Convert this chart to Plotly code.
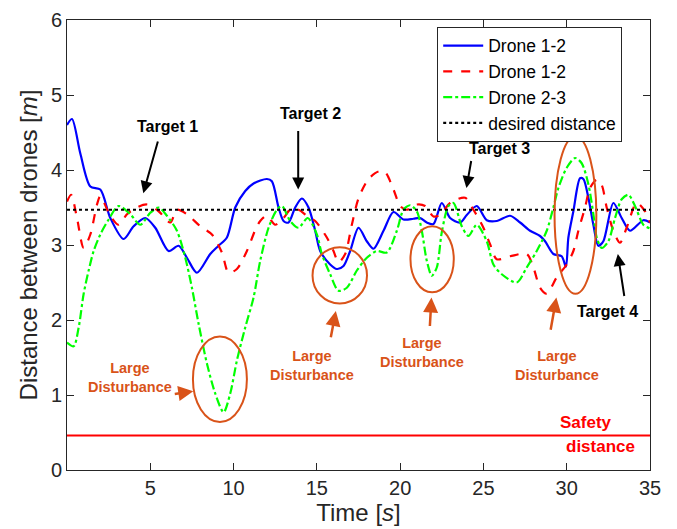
import plotly.graph_objects as go

# ---------------- data ----------------
t_blue = [0.0, 0.3, 0.8, 1.4, 2.0, 2.6, 3.4, 4.0, 4.7, 5.3, 6.1, 6.7, 7.2, 7.8, 8.6, 9.1, 9.6,
          10.1, 10.7, 11.2, 12.0, 12.3, 12.7, 13.0, 13.3, 13.7, 14.1, 14.5, 14.9, 15.2, 15.8,
          16.2, 16.6, 17.0, 17.5, 18.0, 18.4, 19.0, 19.6, 20.2, 20.8, 21.2, 21.6, 22.0, 22.5,
          23.0, 23.6, 24.0, 24.6, 25.2, 25.8, 26.6, 27.2, 27.8, 28.4, 28.7, 29.2, 29.7, 29.95,
          30.1, 30.4, 30.8, 31.0, 31.3, 31.6, 31.9, 32.2, 32.8, 33.3, 33.8, 34.6, 35.0]
d_blue = [4.60, 4.68, 4.22, 3.78, 3.74, 3.36, 3.08, 3.25, 3.36, 3.23, 2.92, 2.99, 2.83, 2.63, 2.88, 2.99, 3.10,
          3.50, 3.72, 3.82, 3.88, 3.85, 3.50, 3.32, 3.30, 3.50, 3.62, 3.50, 3.19, 2.92, 2.74,
          2.68, 2.72, 2.92, 3.23, 3.05, 2.95, 3.19, 3.44, 3.34, 3.35, 3.36, 3.30, 3.28, 3.56,
          3.36, 3.30, 3.40, 3.52, 3.33, 3.32, 3.39, 3.30, 3.19, 3.12, 3.05, 2.88, 2.85, 2.71,
          3.10, 3.45, 3.89, 3.88, 3.63, 3.27, 2.99, 3.05, 3.56, 3.36, 3.19, 3.33, 3.30]

t_red = [0.0, 0.25, 0.6, 1.0, 1.4, 1.8, 2.0, 2.6, 3.1, 3.6, 4.2, 4.8, 5.5, 6.2, 6.6, 7.2, 8.0, 8.7,
         9.3, 9.7, 10.2, 10.8, 11.3, 11.6, 12.0, 12.5, 13.0, 13.4, 13.9, 14.4, 14.9, 15.6, 16.0,
         16.3, 16.7, 17.1, 17.5, 18.1, 18.7, 19.1, 19.6, 20.0, 20.4, 21.0, 21.5, 22.0, 22.4,
         23.0, 23.9, 24.4, 25.0, 25.4, 25.8, 26.6, 27.6, 28.0, 28.4, 28.8, 29.4, 30.0, 30.4,
         30.7, 31.1, 31.4, 31.8, 32.1, 32.4, 32.8, 33.2, 33.6, 34.2, 34.7, 35.0]
d_red = [3.58, 3.67, 3.36, 2.96, 3.14, 3.54, 3.65, 3.39, 3.27, 3.41, 3.50, 3.54, 3.45, 3.30, 3.47, 3.41, 3.25, 3.14,
         2.90, 2.63, 2.68, 2.92, 3.20, 3.32, 3.39, 3.27, 3.36, 3.47, 3.47, 3.39, 3.32, 3.10, 2.92,
         2.77, 2.88, 3.27, 3.62, 3.88, 3.98, 3.97, 3.74, 3.52, 3.47, 3.54, 3.52, 3.38, 3.40,
         3.56, 3.63, 3.47, 3.23, 3.01, 2.81, 2.85, 2.88, 2.70, 2.43, 2.35, 2.57, 2.74, 2.92,
         3.19, 3.50, 3.76, 3.87, 3.80, 3.50, 3.19, 3.03, 3.23, 3.56, 3.45, 3.30]

t_green = [0.0, 0.4, 0.7, 1.0, 1.3, 1.6, 2.0, 2.5, 3.1, 3.8, 4.4, 5.0, 5.5, 6.0, 6.6, 7.1, 7.5, 7.9,
           8.4, 8.9, 9.4, 9.8, 10.2, 10.7, 11.2, 11.6, 12.1, 12.6, 12.9, 13.4, 13.9, 14.45, 15.0,
           15.3, 15.8, 16.3, 16.8, 17.4, 18.0, 18.6, 19.2, 19.8, 20.2, 20.6, 21.0, 21.3, 21.6,
           21.9, 22.2, 22.5, 22.9, 23.2, 23.7, 24.1, 24.6, 25.2, 25.6, 26.1, 27.0, 27.6, 28.2,
           28.8, 29.2, 29.5, 30.0, 30.5, 30.9, 31.3, 31.6, 31.8, 32.1, 32.5, 32.9, 33.3, 33.7,
           34.1, 34.6, 35.0]
d_green = [1.70, 1.65, 1.90, 2.35, 2.66, 2.92, 3.14, 3.34, 3.52, 3.41, 3.27, 3.43, 3.50, 3.39, 3.19, 2.83, 2.43, 1.95,
           1.42, 1.02, 0.77, 1.02, 1.46, 1.90, 2.30, 2.79, 3.23, 3.47, 3.52, 3.32, 3.23, 3.36, 3.14,
           2.88, 2.61, 2.39, 2.43, 2.66, 2.83, 2.92, 2.90, 3.19, 3.47, 3.53, 3.45, 3.19, 2.79,
           2.59, 2.70, 3.17, 3.52, 3.56, 3.25, 3.12, 3.27, 3.05, 2.74, 2.61, 2.50, 2.70, 2.92,
           3.19, 3.50, 3.76, 4.03, 4.16, 4.09, 3.81, 3.41, 3.10, 2.96, 3.05, 3.36, 3.61, 3.67,
           3.52, 3.27, 3.22]

t_span = [0, 35]
desired_distance = 3.47
safety_distance = 0.46

series_names = ["Drone 1-2", "Drone 1-2", "Drone 2-3", "desired distance"]
x_ticks = [5, 10, 15, 20, 25, 30, 35]
y_ticks = [0, 1, 2, 3, 4, 5, 6]

# ---------------- figure ----------------
FONT = "Liberation Sans, Arial, Helvetica, sans-serif"
ORANGE = "#D95319"
AXC = "#262626"

fig = go.Figure()
fig.add_trace(go.Scatter(x=t_blue, y=d_blue, mode="lines", name=series_names[0],
                         line=dict(color="#0000FF", width=2.2, shape="spline", smoothing=0.8)))
fig.add_trace(go.Scatter(x=t_red, y=d_red, mode="lines", name=series_names[1],
                         line=dict(color="#FF0000", width=2.2, dash="dash", shape="spline", smoothing=0.8)))
fig.add_trace(go.Scatter(x=t_green, y=d_green, mode="lines", name=series_names[2],
                         line=dict(color="#00FF00", width=2.2, dash="dashdot", shape="spline", smoothing=0.8)))
fig.add_trace(go.Scatter(x=t_span, y=[desired_distance] * 2, mode="lines", name=series_names[3],
                         line=dict(color="#000000", width=2.2, dash="dot")))
fig.add_trace(go.Scatter(x=t_span, y=[safety_distance] * 2, mode="lines", showlegend=False,
                         line=dict(color="#FF0000", width=2.2)))

annotations = []

def txt(x, y, s, color, size):
    annotations.append(dict(x=x, y=y, xref="x", yref="y", text=s, showarrow=False,
                            font=dict(family=FONT, size=size, color=color)))

def arrow(x0, y0, x1, y1, color, w=2):
    annotations.append(dict(x=x1, y=y1, ax=x0, ay=y0, xref="x", yref="y", axref="x", ayref="y",
                            text="", showarrow=True, arrowhead=2, arrowsize=1.2,
                            arrowwidth=w, arrowcolor=color))

# targets
txt(6.06, 4.58, "<b>Target 1</b>", "#000000", 16)
arrow(5.48, 4.40, 4.58, 3.69, "#000000")
txt(14.64, 4.75, "<b>Target 2</b>", "#000000", 16)
arrow(13.88, 4.54, 13.88, 3.74, "#000000")
txt(25.98, 4.29, "<b>Target 3</b>", "#000000", 16)
arrow(24.28, 4.14, 23.98, 3.76, "#000000")
txt(32.45, 2.12, "<b>Target 4</b>", "#000000", 16)
arrow(33.47, 2.30, 33.07, 2.88, "#000000")

# large disturbances
for (tx, ty, a0x, a0y, a1x, a1y) in [(3.81, 1.24, 6.38, 1.01, 7.58, 1.05),
                                     (14.72, 1.39, 15.82, 1.75, 16.14, 2.12),
                                     (21.33, 1.57, 21.78, 1.90, 21.88, 2.30),
                                     (29.41, 1.40, 29.02, 1.85, 29.38, 2.30)]:
    txt(tx, ty, "<b>Large<br>Disturbance</b>", ORANGE, 14.5)
    arrow(a0x, a0y, a1x, a1y, ORANGE, 2.5)

# safety distance label
txt(31.17, 0.64, "<b>Safety</b>", "#FF0000", 17)
txt(32.03, 0.32, "<b>distance</b>", "#FF0000", 17)

shapes = []
for (x0, x1, y0, y1) in [(7.56, 10.80, 0.64, 1.78), (14.74, 18.01, 2.22, 2.97),
                         (20.62, 23.22, 2.37, 3.25), (29.27, 31.78, 2.35, 4.45)]:
    shapes.append(dict(type="circle", xref="x", yref="y", x0=x0, x1=x1, y0=y0, y1=y1,
                       line=dict(color=ORANGE, width=2)))

# the page body has an 8px margin, so the figure is sized to the remaining window
fig.update_layout(
    width=669, height=521,
    margin=dict(l=59, r=27, t=12, b=59, autoexpand=False),
    paper_bgcolor="white", plot_bgcolor="white",
    font=dict(family=FONT, color=AXC, size=20),
    showlegend=True,
    legend=dict(x=0.635, y=0.985, xanchor="left", yanchor="top",
                bgcolor="white", bordercolor="#262626", borderwidth=1,
                font=dict(family=FONT, size=17.5, color="#000000"),
                tracegroupgap=0, itemwidth=40),
    annotations=annotations,
    shapes=shapes,
)
fig.update_xaxes(range=[0, 35], tickvals=x_ticks, ticks="inside", ticklen=7, tickcolor=AXC,
                 showline=True, linecolor=AXC, linewidth=1, mirror="ticks", showgrid=False,
                 zeroline=False, automargin=False,
                 title=dict(text="Time [<i>s</i>]", font=dict(size=24), standoff=4),
                 tickfont=dict(size=20))
fig.update_yaxes(range=[0, 6], tickvals=y_ticks, ticks="inside", ticklen=7, tickcolor=AXC,
                 showline=True, linecolor=AXC, linewidth=1, mirror="ticks", showgrid=False,
                 zeroline=False, automargin=False,
                 title=dict(text="Distance between drones [<i>m</i>]", font=dict(size=24), standoff=6),
                 tickfont=dict(size=20))

fig.write_html("out.html")
